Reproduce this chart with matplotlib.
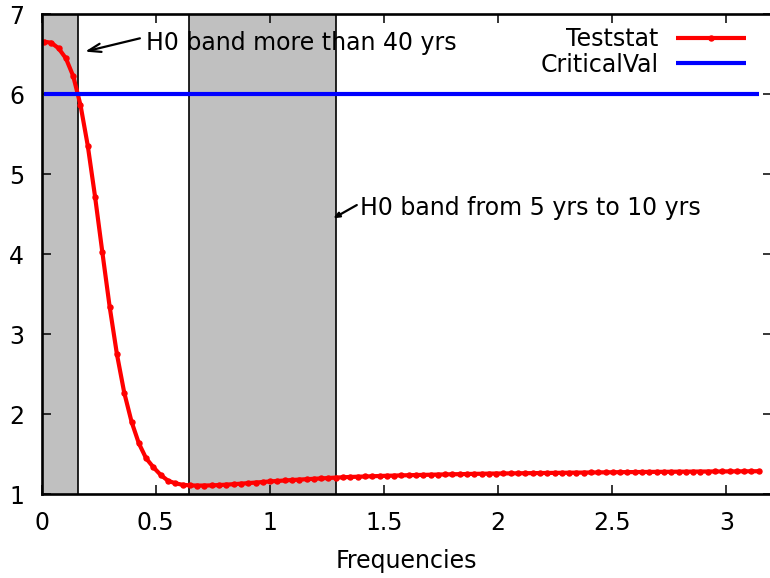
import numpy as np
import matplotlib
matplotlib.use("Agg")
import matplotlib.pyplot as plt

plt.rcParams['font.family'] = ['DejaVu Sans']

# Frequencies (regular grid)
freqs = np.linspace(0.011, np.pi, 99)
teststat = [
    6.654, 6.641, 6.571, 6.446, 6.225, 5.863, 5.354, 4.716, 4.021, 3.341,
    2.746, 2.266, 1.904, 1.634, 1.446, 1.334, 1.238, 1.166, 1.134, 1.115,
    1.108, 1.105, 1.106, 1.108, 1.112, 1.117, 1.123, 1.129, 1.136, 1.143,
    1.150, 1.157, 1.163, 1.169, 1.175, 1.180, 1.185, 1.190, 1.195, 1.200,
    1.205, 1.209, 1.213, 1.216, 1.219, 1.222, 1.225, 1.228, 1.230, 1.233,
    1.235, 1.237, 1.239, 1.241, 1.243, 1.245, 1.247, 1.248, 1.250, 1.252,
    1.253, 1.255, 1.256, 1.257, 1.258, 1.259, 1.260, 1.261, 1.262, 1.263,
    1.264, 1.265, 1.266, 1.267, 1.268, 1.269, 1.270, 1.271, 1.272, 1.273,
    1.274, 1.274, 1.275, 1.276, 1.277, 1.277, 1.278, 1.279, 1.279, 1.280,
    1.281, 1.281, 1.282, 1.282, 1.283, 1.283, 1.284, 1.284, 1.285,
]
critical_val = 6.0

# H0 bands (frequency ranges)
band1 = (0.0, 0.159)
band2 = (0.644, 1.288)

xticks = [0, 0.5, 1, 1.5, 2, 2.5, 3]
xtick_labels = ["0", "0.5", "1", "1.5", "2", "2.5", "3"]
yticks = [1, 2, 3, 4, 5, 6, 7]
ytick_labels = ["1", "2", "3", "4", "5", "6", "7"]

FS = 17

fig = plt.figure(figsize=(7.7, 5.78), dpi=100)
ax = fig.add_axes([41.5 / 770, 84 / 578, 730.6 / 770, 480 / 578])
ax.set_xlim(0, 3.2)
ax.set_ylim(1, 7)

for (a, b) in (band1, band2):
    ax.axvspan(a, b, facecolor='#c0c0c0', edgecolor='none', zorder=1)
    ax.axvline(a, color='black', lw=1.2, zorder=1.5)
    ax.axvline(b, color='black', lw=1.2, zorder=1.5)

ax.plot(freqs, teststat, color='#ff0000', lw=3.0, marker='o', markersize=3.6,
        label='Teststat', zorder=3, solid_capstyle='butt')
ax.plot([freqs[0], freqs[-1]], [critical_val, critical_val], color='#0000ff',
        lw=3.0, label='CriticalVal', zorder=3, solid_capstyle='butt')

ax.set_xticks(xticks)
ax.set_xticklabels(xtick_labels)
ax.set_yticks(yticks)
ax.set_yticklabels(ytick_labels)
ax.tick_params(direction='in', length=6.5, width=1.1, top=True, right=True,
               labelsize=FS)
ax.tick_params(axis='x', pad=12)
ax.tick_params(axis='y', pad=12.5)
for s in ax.spines.values():
    s.set_linewidth(1.9)
    s.set_zorder(5)

ax.set_xlabel('Frequencies', fontsize=FS, labelpad=10)

ax.annotate('', xy=(0.1905, 6.53), xytext=(0.431, 6.696),
            arrowprops=dict(arrowstyle='->,head_length=0.9,head_width=0.3',
                            lw=1.6, color='black', shrinkA=0, shrinkB=0),
            zorder=6)
ax.text(0.457, 6.55, 'H0 band more than 40 yrs', fontsize=FS, va='baseline',
        ha='left', zorder=6)

ax.annotate('', xy=(1.278, 4.446), xytext=(1.381, 4.612),
            arrowprops=dict(arrowstyle='-|>,head_length=0.35,head_width=0.15',
                            lw=1.6, color='black', shrinkA=0, shrinkB=0),
            zorder=6)
ax.text(1.395, 4.4875, 'H0 band from 5 yrs to 10 yrs', fontsize=FS,
        va='baseline', ha='left', zorder=6)

leg = ax.legend(loc='upper right', frameon=False, fontsize=FS, markerfirst=False,
                numpoints=1, handlelength=2.98, handletextpad=0.75,
                labelspacing=0.07, borderaxespad=0.0, borderpad=0.0,
                bbox_to_anchor=(1 - 25.7 / 730.6, 1 - 13 / 480))

fig.savefig('out.png', dpi=100)
